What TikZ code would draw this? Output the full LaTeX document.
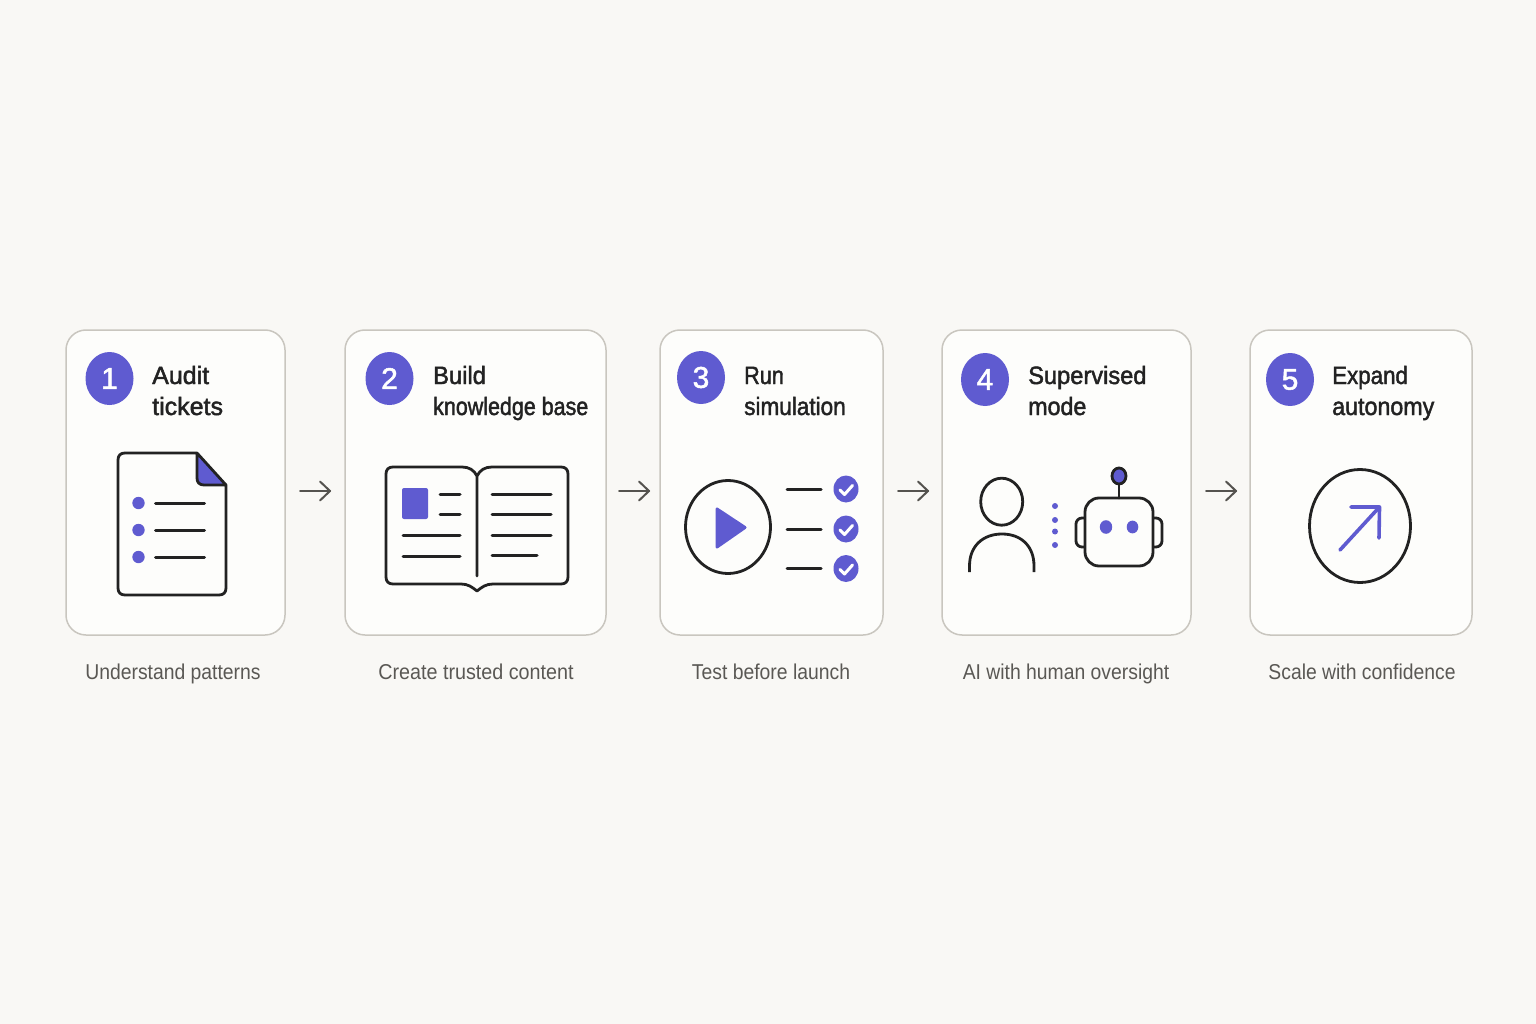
\documentclass[tikz,border=0pt]{standalone}
\usepackage{fontspec}
\usetikzlibrary{shapes.geometric}
\setmainfont{Liberation Sans}
\newfontfamily\titlefont[FakeBold=1.8,FakeStretch=0.93]{Liberation Sans}
\newfontfamily\capfont[FakeStretch=0.9]{Liberation Sans}
\newfontfamily\digitfont[FakeBold=1.6]{Liberation Sans}
\newcommand{\fitx}[2]{\scalebox{#1}[1]{#2}}
\definecolor{bgc}{HTML}{F9F8F5}
\definecolor{cardfill}{HTML}{FDFDFB}
\definecolor{cardline}{HTML}{C9C6BF}
\definecolor{purp}{HTML}{5F5BD0}
\definecolor{ink}{HTML}{222222}
\definecolor{arrowc}{HTML}{55534F}
\definecolor{capc}{HTML}{5A5854}
\tikzset{
  card/.style={draw=cardline,line width=1.5pt,fill=cardfill,rounded corners=20pt,inner sep=0pt},
  badge/.style={ellipse,fill=purp,text=white,minimum width=48pt,minimum height=53pt,inner sep=0pt,font=\digitfont\fontsize{30}{30}\selectfont},
  ttl/.style={anchor=base west,inner sep=0pt,text=ink,font=\titlefont\fontsize{25}{25}\selectfont},
  captext/.style={anchor=base,inner sep=0pt,text=capc,font=\capfont\fontsize{21.5}{22}\selectfont},
  icon/.style={draw=ink,line width=2.8pt,line cap=round,line join=round},
  rulerow/.style={draw=ink,line width=3pt,line cap=round},
  flow/.style={draw=arrowc,line width=2pt,line cap=round,line join=round},
  parrow/.style={draw=purp,line width=3.6pt,line cap=round,line join=round},
  wcheck/.style={draw=white,line width=3pt,line cap=round,line join=round}
}
\begin{document}
\begin{tikzpicture}[x=1pt,y=-1pt]
\useasboundingbox (0,0) rectangle (1536,1024);
\fill[bgc] (0,0) rectangle (1536,1024);
% cards
\node[card,minimum width=219pt,minimum height=305pt] (card1) at (175.5,482.5) {};
\node[card,minimum width=261pt,minimum height=305pt] (card2) at (475.5,482.5) {};
\node[card,minimum width=223pt,minimum height=305pt] (card3) at (771.5,482.5) {};
\node[card,minimum width=249pt,minimum height=305pt] (card4) at (1066.5,482.5) {};
\node[card,minimum width=222pt,minimum height=305pt] (card5) at (1361,482.5) {};
% badges
\node[badge] (b1) at (109.5,378.5) {1};
\node[badge] (b2) at (389.5,378.5) {2};
\node[badge] (b3) at (701,377.5) {3};
\node[badge] (b4) at (985,379.5) {4};
\node[badge] (b5) at (1290,379.5) {5};
% titles
\node[ttl] (t1a) at (152,384) {\fitx{1.075}{Audit}};
\node[ttl] (t1b) at (152,415) {\fitx{1.075}{tickets}};
\node[ttl] (t2a) at (433,384) {\fitx{1.02}{Build}};
\node[ttl] (t2b) at (433,415) {\fitx{0.923}{knowledge base}};
\node[ttl] (t3a) at (744,384) {\fitx{0.93}{Run}};
\node[ttl] (t3b) at (744,415) {\fitx{0.97}{simulation}};
\node[ttl] (t4a) at (1028,384) {\fitx{1.017}{Supervised}};
\node[ttl] (t4b) at (1028,415) {mode};
\node[ttl] (t5a) at (1332,384) {\fitx{0.96}{Expand}};
\node[ttl] (t5b) at (1332,415) {autonomy};
% captions
\node[captext] (c1) at (173,679) {Understand patterns};
\node[captext] (c2) at (476,679) {\fitx{1.02}{Create trusted content}};
\node[captext] (c3) at (771,679) {Test before launch};
\node[captext] (c4) at (1066,679) {AI with human oversight};
\node[captext] (c5) at (1362,679) {Scale with confidence};
% connectors
\coordinate (a1s) at (300,491); \coordinate (a1e) at (330,491);
\coordinate (a2s) at (619,491); \coordinate (a2e) at (649,491);
\coordinate (a3s) at (898,491); \coordinate (a3e) at (928,491);
\coordinate (a4s) at (1206,491); \coordinate (a4e) at (1236,491);
\foreach \k in {1,2,3,4}{
  \draw[flow] (a\k s) -- (a\k e);
  \draw[flow] ([shift={(-10,-9.5)}]a\k e) -- (a\k e) -- ([shift={(-10,9.5)}]a\k e);
}
% icon 1: document
\fill[purp] (197,453) -- (226,485) -- (204,485) .. controls (199,485) and (197,482) .. (197,478) -- cycle;
\draw[icon] (197,453) -- (125,453) .. controls (120.5,453) and (118,455.5) .. (118,460) -- (118,588) .. controls (118,592.5) and (120.5,595) .. (125,595) -- (219,595) .. controls (223.5,595) and (226,592.5) .. (226,588) -- (226,485) -- (197,453) -- (197,478) .. controls (197,482) and (199,485) .. (204,485) -- (226,485);
\foreach \y in {503,530,557}{
  \fill[purp] (138.5,\y) circle[radius=6.2];
  \draw[rulerow] (155.5,\y) -- (204.5,\y);
}
% icon 2: book
\draw[icon] (477,476) .. controls (474,470) and (469,467) .. (462,467) -- (393,467) .. controls (388.5,467) and (386,469.5) .. (386,474) -- (386,577) .. controls (386,581.5) and (388.5,584) .. (393,584) -- (461,584) .. controls (468,584) and (472,587) .. (477,591) .. controls (482,587) and (486,584) .. (493,584) -- (561,584) .. controls (565.5,584) and (568,581.5) .. (568,577) -- (568,474) .. controls (568,469.5) and (565.5,467) .. (561,467) -- (492,467) .. controls (485,467) and (480,470) .. (477,476) -- (477,576);
\fill[purp,rounded corners=2pt] (402,488) rectangle (428,519);
\draw[rulerow] (440,494.5) -- (460,494.5);
\draw[rulerow] (440,514.5) -- (460,514.5);
\draw[rulerow] (403,535.5) -- (460,535.5);
\draw[rulerow] (403,556) -- (460,556);
\draw[rulerow] (492,494.5) -- (551,494.5);
\draw[rulerow] (492,514.5) -- (551,514.5);
\draw[rulerow] (492,535) -- (551,535);
\draw[rulerow] (492,555) -- (537,555);
% icon 3: play
\draw[icon] (728,527) ellipse[x radius=42.5,y radius=46.5];
\fill[purp,draw=purp,line width=3pt,line join=round] (717,509) -- (745,527.5) -- (717,547) -- cycle;
\foreach \y in {489,529,568.5}{
  \draw[rulerow] (787,\y) -- (821,\y);
  \fill[purp] (846,\y) ellipse[x radius=12.5,y radius=13.5];
  \draw[wcheck] (840,\y+1) -- (844.5,\y+5.5) -- (852.5,\y-3.5);
}
% icon 4: person and robot
\draw[icon] (1001.7,501.7) ellipse[x radius=21,y radius=23.5];
\draw[icon,line cap=butt] (969.5,572) -- (969.5,566) .. controls (969.5,546) and (983,534) .. (1002,534) .. controls (1021,534) and (1034,546) .. (1034,566) -- (1034,572);
\foreach \y in {506,520,531.5,545}{\fill[purp] (1055,\y) circle[radius=3];}
\draw[icon,rounded corners=6pt] (1085,518) -- (1076,518) -- (1076,547) -- (1085,547);
\draw[icon,rounded corners=6pt] (1153,518) -- (1162,518) -- (1162,547) -- (1153,547);
\draw[icon,fill=cardfill,rounded corners=14pt] (1085,498) rectangle (1153,566);
\draw[icon] (1119,498) -- (1119,484);
\draw[icon,fill=purp] (1119,476) ellipse[x radius=7,y radius=8];
\fill[purp] (1106,527) ellipse[x radius=6.2,y radius=6.8];
\fill[purp] (1132.5,527) ellipse[x radius=5.8,y radius=6.4];
% icon 5: growth
\draw[icon] (1360,526) ellipse[x radius=50.5,y radius=56.5];
\draw[parrow] (1340,550) -- (1379,507.5);
\draw[parrow] (1351,507) -- (1379.5,507) -- (1379,538);
\end{tikzpicture}
\end{document}
